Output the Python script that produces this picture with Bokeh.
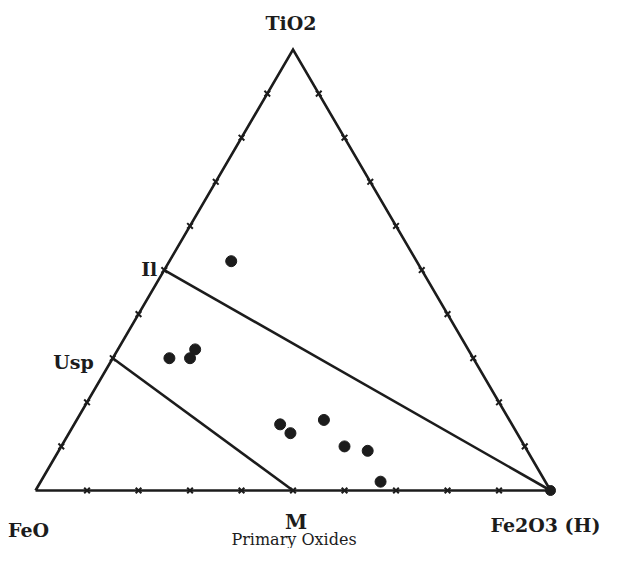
import math
from bokeh.plotting import figure
from bokeh.models import Range1d
from bokeh.core.properties import value
from bokeh.embed import file_html
from bokeh.resources import INLINE

# ---- data (mole %) ----
vertex_labels = ["FeO", "Fe2O3 (H)", "TiO2"]

sample_feo = [36, 53, 59, 55, 45, 44, 36, 35, 31, 32]
sample_fe2o3 = [12, 15, 11, 15, 40, 43, 48, 55, 60, 66]
sample_tio2 = [52, 32, 30, 30, 15, 13, 16, 10, 9, 2]

phase_names = ["Il", "Usp", "M", "H"]
phase_feo = [50, 70, 50, 0]
phase_fe2o3 = [0, 0, 50, 100]
phase_tio2 = [50, 30, 0, 0]

tick_pcts = [10, 20, 30, 40, 50, 60, 70, 80, 90]

H3 = math.sqrt(3) / 2


def tern(feo, fe2o3, tio2):
    t = feo + fe2o3 + tio2
    return (fe2o3 + tio2 / 2) / t, tio2 * H3 / t


def tern_list(a, b, c):
    xs, ys = [], []
    for f, h, t in zip(a, b, c):
        x, y = tern(f, h, t)
        xs.append(x)
        ys.append(y)
    return xs, ys


p = figure(width=608, height=548, output_backend="svg", toolbar_location=None,
           x_axis_type=None, y_axis_type=None, min_border=0,
           x_range=Range1d(-0.0680, 1.1126), y_range=Range1d(-0.1139, 0.9623))
p.outline_line_color = None
p.background_fill_color = "white"
p.border_fill_color = "white"

ink = "#1c1c1c"

# triangle frame
vx, vy = tern_list([100, 0, 0, 100], [0, 100, 0, 0], [0, 0, 100, 0])
p.line(vx, vy, line_color=ink, line_width=2.6, line_join="miter")

# tie lines Il-H and Usp-M
px, py = tern_list(phase_feo, phase_fe2o3, phase_tio2)
ph = dict(zip(phase_names, zip(px, py)))
p.line([ph["Il"][0], ph["H"][0]], [ph["Il"][1], ph["H"][1]], line_color=ink, line_width=2.6)
p.line([ph["Usp"][0], ph["M"][0]], [ph["Usp"][1], ph["M"][1]], line_color=ink, line_width=2.6)

# edge ticks
ta, tb, tc = [], [], []
for q in tick_pcts:
    ta += [100 - q, 0, 100 - q]
    tb += [q, 100 - q, 0]
    tc += [0, q, q]
tx, ty = tern_list(ta, tb, tc)
p.scatter(tx, ty, marker="x", size=8, line_color=ink, line_width=2)

# samples
sx, sy = tern_list(sample_feo, sample_fe2o3, sample_tio2)
p.scatter(sx, sy, marker="circle", size=11, fill_color=ink, line_color=ink)
p.scatter([ph["H"][0]], [ph["H"][1]], marker="circle", size=10, fill_color=ink, line_color=ink)

font = value("DejaVu Serif")


def label(x, y, txt, size, dx, dy, align="center", baseline="middle", style="bold"):
    p.text(x=[x], y=[y], text=[txt], text_font=font, text_font_size=size,
           text_font_style=style, text_color=ink, text_align=align,
           text_baseline=baseline, x_offset=dx, y_offset=dy)


label(vx[2], vy[2], vertex_labels[2], "19px", -2, -27)
label(vx[0], vy[0], vertex_labels[0], "19px", -7, 39)
label(vx[1], vy[1], vertex_labels[1], "19px", -5, 34)
label(ph["M"][0], ph["M"][1], "M", "20px", 3, 31)
label(ph["M"][0], ph["M"][1], "Primary Oxides", "16px", 1, 58, baseline="bottom", style="normal")
label(ph["Il"][0], ph["Il"][1], "Il", "19px", -7, -1, align="right")
label(ph["Usp"][0], ph["Usp"][1], "Usp", "19px", -19, 4, align="right")

open("out.html", "w").write(file_html(p, INLINE))
